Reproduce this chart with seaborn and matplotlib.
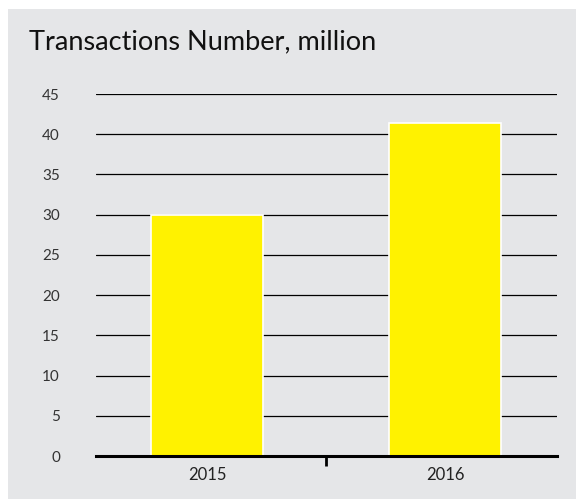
import numpy as np
import pandas as pd
import matplotlib.pyplot as plt
import seaborn as sns
from matplotlib.patches import Rectangle
from matplotlib.ticker import FixedLocator

# ---------------- data ----------------
years = ["2015", "2016"]
transactions = [30.0, 41.4]
title = "Transactions Number, million"

df = pd.DataFrame({"year": years, "value": transactions})

bg = "#e5e6e8"
bar_color = "#fff200"

sns.set_theme(style="white")
plt.rcParams["font.family"] = ["Lato", "DejaVu Sans"]

fig = plt.figure(figsize=(5.76, 5.01), dpi=100)
fig.patch.set_facecolor("white")
# grey panel behind everything
fig.patches.append(Rectangle((8 / 576, 2 / 501), 568 / 576, 490 / 501,
                             transform=fig.transFigure, facecolor=bg,
                             edgecolor="none", zorder=-10))

ax = fig.add_axes([96 / 576, 45 / 501, 461 / 576, 362 / 501])
ax.set_facecolor(bg)

sns.barplot(data=df, x="year", y="value", color=bar_color, width=0.47,
            edgecolor="white", linewidth=1.2, saturation=1, ax=ax, zorder=3)

ax.set_ylim(0, 45)
ax.set_xlim(-0.466, 1.47)
ax.set_yticks(np.arange(0, 46, 5))
ax.yaxis.grid(True, color="black", linewidth=0.9)
ax.set_axisbelow(True)
for g in ax.get_ygridlines():
    g.set_zorder(1)

for s in ["top", "right", "left"]:
    ax.spines[s].set_visible(False)
ax.spines["bottom"].set_color("black")
ax.spines["bottom"].set_linewidth(2.2)
ax.spines["bottom"].set_zorder(5)

ax.tick_params(axis="y", length=0, pad=26, labelsize=11, labelcolor="#333333")
ax.tick_params(axis="x", which="major", length=0, pad=8, labelsize=12, labelcolor="#222222")
# single tick mark between the two categories
ax.xaxis.set_minor_locator(FixedLocator([0.5]))
ax.tick_params(axis="x", which="minor", bottom=True, length=7, width=2,
               color="black", direction="out")

ax.set_xlabel("")
ax.set_ylabel("")

fig.text(29 / 576, 1 - 42 / 501, title, fontsize=19.5, color="#111111",
         ha="left", va="center")

plt.savefig("out.png", dpi=100)
